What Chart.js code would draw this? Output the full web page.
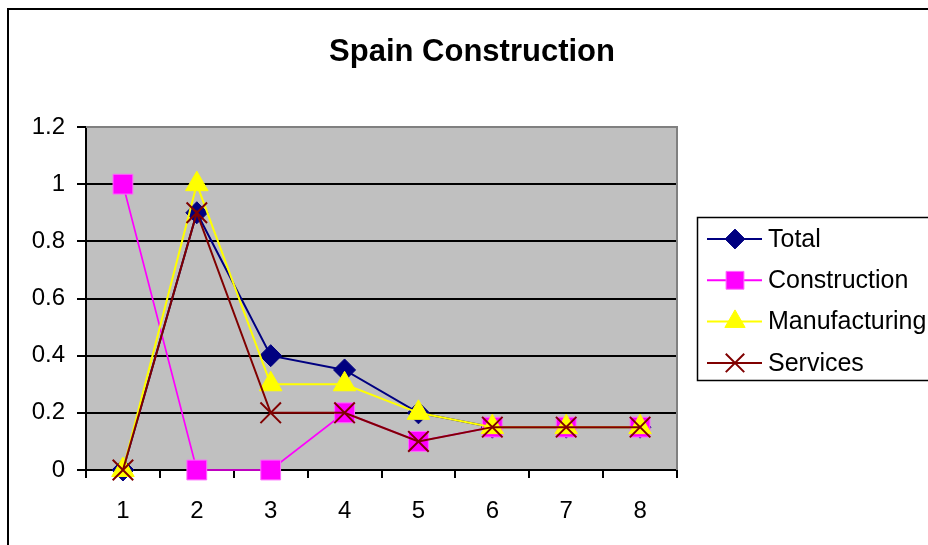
<!DOCTYPE html>
<html>
<head>
<meta charset="utf-8">
<script src="https://cdn.jsdelivr.net/npm/chart.js@4.4.1/dist/chart.umd.min.js"></script>
<style>
  html, body { margin: 0; padding: 0; background: #ffffff; }
  #wrap { width: 928px; height: 545px; position: relative; }
</style>
</head>
<body>
<div id="wrap"><canvas id="c" width="928" height="545"></canvas></div>
<script>
const categories = ['1', '2', '3', '4', '5', '6', '7', '8'];
const totalValues = [0, 0.9, 0.4, 0.35, 0.2, 0.15, 0.15, 0.15];
const constructionValues = [1, 0, 0, 0.2, 0.1, 0.15, 0.15, 0.15];
const manufacturingValues = [0, 1, 0.3, 0.3, 0.2, 0.15, 0.15, 0.15];
const servicesValues = [0, 0.9, 0.2, 0.2, 0.1, 0.15, 0.15, 0.15];
const yTickLabels = ['0', '0.2', '0.4', '0.6', '0.8', '1', '1.2'];
const chartTitle = 'Spain Construction';

const FONT = "'Liberation Sans', Arial, sans-serif";

const decor = {
  id: 'decor',
  beforeDraw(chart) {
    const ctx = chart.ctx, a = chart.chartArea;
    ctx.save();
    ctx.fillStyle = '#ffffff';
    ctx.fillRect(0, 0, chart.width, chart.height);
    ctx.strokeStyle = '#000000';
    ctx.lineWidth = 2;
    ctx.strokeRect(8, 9, chart.width + 20, chart.height + 20);
    ctx.fillStyle = '#C0C0C0';
    ctx.fillRect(a.left, a.top, a.right - a.left, a.bottom - a.top);
    ctx.restore();
  },
  beforeDatasetsDraw(chart) {
    const ctx = chart.ctx, a = chart.chartArea;
    ctx.save();
    ctx.strokeStyle = '#808080';
    ctx.lineWidth = 2;
    ctx.beginPath();
    ctx.moveTo(a.left, a.top);
    ctx.lineTo(a.right, a.top);
    ctx.lineTo(a.right, a.bottom);
    ctx.stroke();
    ctx.restore();
  },
  afterDraw(chart) {
    const ctx = chart.ctx;
    ctx.save();
    // title
    ctx.fillStyle = '#000000';
    ctx.font = 'bold 31px ' + FONT;
    ctx.textAlign = 'center';
    ctx.textBaseline = 'alphabetic';
    ctx.fillText(chartTitle, 472, 61);
    // legend box
    ctx.strokeStyle = '#000000';
    ctx.lineWidth = 1.5;
    ctx.strokeRect(697.5, 217.5, 300, 163);
    const legendOrder = [0, 1, 2, 3];
    const baseY = 239;
    const step = 41.3;
    ctx.font = '25px ' + FONT;
    ctx.textAlign = 'left';
    ctx.textBaseline = 'middle';
    legendOrder.forEach((di, i) => {
      const ds = chart.data.datasets[di];
      const y = baseY + i * step;
      ctx.strokeStyle = ds.borderColor;
      ctx.lineWidth = 2;
      ctx.beginPath();
      ctx.moveTo(707, y);
      ctx.lineTo(762, y);
      ctx.stroke();
      ctx.fillStyle = ds.pointBackgroundColor;
      ctx.strokeStyle = ds.pointBorderColor;
      ctx.lineWidth = ds.pointBorderWidth;
      Chart.helpers.drawPoint(ctx, {pointStyle: ds.pointStyle, radius: ds.pointRadius * 0.9, rotation: 0, borderWidth: ds.pointBorderWidth}, 735, y);
      ctx.fillStyle = '#000000';
      ctx.fillText(ds.label, 768, y + 1);
    });
    ctx.restore();
  }
};

new Chart(document.getElementById('c'), {
  type: 'line',
  data: {
    labels: categories,
    datasets: [
      { label: 'Total', data: totalValues, borderColor: '#000080', borderWidth: 2,
        pointStyle: 'rectRot', pointRadius: 11, pointBackgroundColor: '#000080', pointBorderColor: '#000080', pointBorderWidth: 1, order: 4 },
      { label: 'Construction', data: constructionValues, borderColor: '#FF00FF', borderWidth: 1.7,
        pointStyle: 'rect', pointRadius: 14, pointBackgroundColor: '#FF00FF', pointBorderColor: '#FF66FF', pointBorderWidth: 1, order: 3 },
      { label: 'Manufacturing', data: manufacturingValues, borderColor: '#FFFF00', borderWidth: 2,
        pointStyle: 'triangle', pointRadius: 13, pointBackgroundColor: '#FFFF00', pointBorderColor: '#FFFF00', pointBorderWidth: 1, order: 2 },
      { label: 'Services', data: servicesValues, borderColor: '#800000', borderWidth: 2,
        pointStyle: 'crossRot', pointRadius: 14.5, pointBackgroundColor: '#800000', pointBorderColor: '#800000', pointBorderWidth: 2, order: 1 }
    ]
  },
  options: {
    responsive: false,
    animation: false,
    events: [],
    clip: false,
    datasets: { line: { clip: false, tension: 0, fill: false } },
    layout: { padding: { left: 0, right: 251, top: 127, bottom: 0 } },
    plugins: { legend: { display: false }, title: { display: false }, tooltip: { enabled: false } },
    scales: {
      x: {
        type: 'category',
        offset: true,
        grid: { offset: true, drawOnChartArea: false, drawTicks: true, tickLength: 8, color: '#000000', tickColor: '#000000', lineWidth: 2 },
        border: { display: true, color: '#000000', width: 2 },
        ticks: { color: '#000000', font: { family: FONT, size: 24 }, padding: 19, maxRotation: 0, autoSkip: false },
        afterFit(scale) { scale.height = 75; }
      },
      y: {
        min: 0, max: 1.2,
        grid: {
          drawTicks: true, tickLength: 9, lineWidth: 2,
          color: (c) => (c.tick && c.tick.value >= 1.19 ? '#808080' : '#000000'),
          tickColor: '#000000'
        },
        border: { display: true, color: '#000000', width: 2 },
        ticks: {
          stepSize: 0.2, color: '#000000', font: { family: FONT, size: 24 }, padding: 12,
          callback: (v, i) => yTickLabels[i]
        },
        afterFit(scale) { scale.width = 86; }
      }
    }
  },
  plugins: [decor]
});
</script>
</body>
</html>
